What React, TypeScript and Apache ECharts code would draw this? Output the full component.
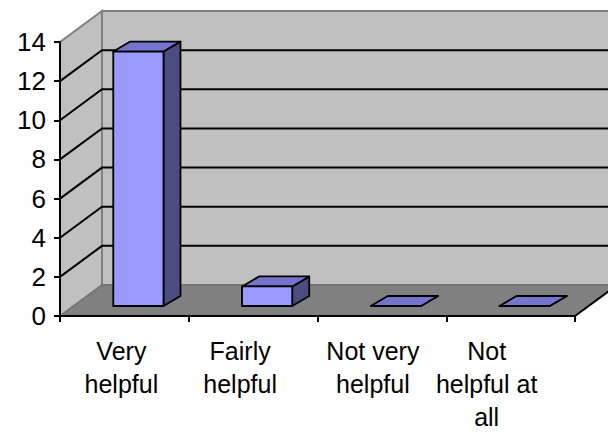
import React, { useEffect, useRef } from "react";
import * as echarts from "echarts";

// ---- data ----
const categories = ["Very\nhelpful", "Fairly\nhelpful", "Not very\nhelpful", "Not\nhelpful at\nall"];
const responses = [13, 1, 0, 0];
const gridValues = [2, 4, 6, 8, 10, 12];
const yMin = 0;
const yMax = 14;
const yStep = 2;

// ---- styling (positions / sizes) ----
const labelShift = [-3, -13, -9, -24];
const DEPTH = { dx: 42, dy: -31 };
const BAR_FRONT = { dx: 14, dy: -10 };
const BAR_DEPTH = { dx: 17, dy: -10 };
const BAR_RATIO = 0.39;
const FONT = "Liberation Sans, Arial, sans-serif";

export default function App() {
  const ref = useRef<HTMLDivElement>(null);
  useEffect(() => {
    const chart = echarts.init(ref.current!, null, { renderer: "svg" });

    const rich: any = {};
    labelShift.forEach((s, i) => {
      rich["s" + i] = {
        fontSize: 25,
        lineHeight: 33,
        color: "#000",
        fontFamily: FONT,
        padding: s < 0 ? [0, -2 * s, 0, 0] : [0, 0, 0, 2 * s],
      };
    });

    chart.setOption({
      animation: false,
      backgroundColor: "#fff",
      grid: { left: 60, top: 42, width: 515, height: 274, containLabel: false },
      xAxis: {
        type: "category",
        data: categories,
        axisLine: { show: true, lineStyle: { color: "#000", width: 2 } },
        axisTick: { show: true, length: 6, lineStyle: { color: "#000", width: 2 } },
        axisLabel: {
          interval: 0,
          margin: 18,
          formatter: (val: string, idx: number) =>
            val.split("\n").map((l) => `{s${idx}|${l}}`).join("\n"),
          rich,
        },
        splitLine: { show: false },
        z: 10,
      },
      yAxis: {
        type: "value",
        min: yMin,
        max: yMax,
        interval: yStep,
        axisLine: { show: true, lineStyle: { color: "#000", width: 2 } },
        axisTick: { show: true, length: 6, lineStyle: { color: "#000", width: 2 } },
        axisLabel: { margin: 14, fontSize: 26, color: "#000", fontFamily: FONT },
        splitLine: { show: false },
        z: 10,
      },
      series: [
        {
          type: "custom",
          z: 1,
          silent: true,
          data: [[0, 0]],
          renderItem: (params: any, api: any) => {
            const cs = params.coordSys;
            const x0 = cs.x, y0 = cs.y, w = cs.width, yb = cs.y + cs.height;
            const { dx, dy } = DEPTH;
            return {
              type: "group",
              children: [
                {
                  type: "rect",
                  shape: { x: x0 + dx, y: y0 + dy, width: w + 10, height: cs.height },
                  style: { fill: "#C0C0C0", stroke: "#808080", lineWidth: 2 },
                },
                {
                  type: "polygon",
                  shape: { points: [[x0, yb], [x0, y0], [x0 + dx, y0 + dy], [x0 + dx, yb + dy]] },
                  style: { fill: "#C0C0C0", stroke: "#808080", lineWidth: 2 },
                },
                {
                  type: "polygon",
                  shape: { points: [[x0, yb], [x0 + w, yb], [x0 + w + dx, yb + dy], [x0 + dx, yb + dy]] },
                  style: { fill: "#808080", stroke: "#6a6a6a", lineWidth: 1 },
                },
                {
                  type: "line",
                  shape: { x1: x0 + w, y1: yb, x2: x0 + w + dx, y2: yb + dy },
                  style: { stroke: "#000", lineWidth: 2 },
                },
              ],
            };
          },
        },
        {
          type: "custom",
          z: 2,
          silent: true,
          data: gridValues.map((v) => [0, v]),
          renderItem: (params: any, api: any) => {
            const cs = params.coordSys;
            const y = api.coord([0, api.value(1)])[1];
            const { dx, dy } = DEPTH;
            return {
              type: "polyline",
              shape: {
                points: [
                  [cs.x, y],
                  [cs.x + dx, y + dy],
                  [cs.x + cs.width + dx + 10, y + dy],
                ],
              },
              style: { stroke: "#000", lineWidth: 2, fill: null },
            };
          },
        },
        {
          type: "custom",
          z: 3,
          data: responses.map((v, i) => [i, v]),
          renderItem: (params: any, api: any) => {
            const idx = api.value(0);
            const band = api.size([1, 0])[0];
            const base = api.coord([idx, 0]);
            const top = api.coord([idx, api.value(1)]);
            const bw = band * BAR_RATIO;
            const xl = base[0] - bw / 2 + BAR_FRONT.dx;
            const xr = xl + bw;
            const yB = base[1] + BAR_FRONT.dy;
            const yT = top[1] + BAR_FRONT.dy;
            const { dx, dy } = BAR_DEPTH;
            const stroke = { stroke: "#000", lineWidth: 1.8, lineJoin: "round" };
            return {
              type: "group",
              children: [
                {
                  type: "polygon",
                  shape: { points: [[xr, yB], [xr, yT], [xr + dx, yT + dy], [xr + dx, yB + dy]] },
                  style: { fill: "#4C4C80", ...stroke },
                },
                {
                  type: "polygon",
                  shape: { points: [[xl, yT], [xr, yT], [xr + dx, yT + dy], [xl + dx, yT + dy]] },
                  style: { fill: "#7474CC", ...stroke },
                },
                {
                  type: "rect",
                  shape: { x: xl, y: yT, width: bw, height: yB - yT },
                  style: { fill: "#9999FF", ...stroke },
                },
              ],
            };
          },
        },
      ],
    });
    return () => chart.dispose();
  }, []);
  return (
    <div
      ref={ref}
      style={{ position: "absolute", left: 0, top: 0, width: 608, height: 446 }}
    />
  );
}
